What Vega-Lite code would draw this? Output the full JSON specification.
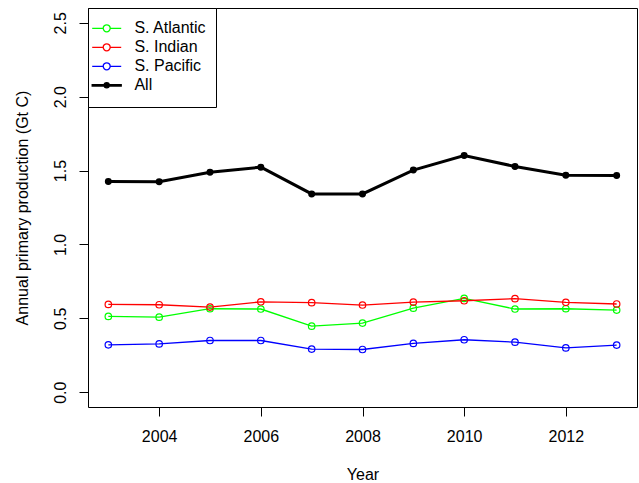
{
  "$schema": "https://vega.github.io/schema/vega-lite/v6.json",
  "width": 549,
  "height": 399,
  "autosize": {"type": "none"},
  "padding": {"left": 88, "top": 8, "right": 2, "bottom": 76},
  "background": "white",
  "config": {
    "font": "Liberation Sans",
    "view": {"stroke": "black", "strokeWidth": 1},
    "axis": {
      "domain": false,
      "grid": false,
      "ticks": true,
      "tickColor": "black",
      "tickSize": 9,
      "tickWidth": 1,
      "labelFont": "Liberation Sans",
      "labelFontSize": 16,
      "labelColor": "black",
      "labelFlush": false,
      "labelOverlap": false,
      "titleFont": "Liberation Sans",
      "titleFontSize": 16,
      "titleFontWeight": "normal",
      "titleColor": "black"
    }
  },
  "data": {
    "values": [
      {"year": 2003, "series": "S. Atlantic", "value": 0.513},
      {"year": 2004, "series": "S. Atlantic", "value": 0.508},
      {"year": 2005, "series": "S. Atlantic", "value": 0.565},
      {"year": 2006, "series": "S. Atlantic", "value": 0.563},
      {"year": 2007, "series": "S. Atlantic", "value": 0.447},
      {"year": 2008, "series": "S. Atlantic", "value": 0.468},
      {"year": 2009, "series": "S. Atlantic", "value": 0.569},
      {"year": 2010, "series": "S. Atlantic", "value": 0.635},
      {"year": 2011, "series": "S. Atlantic", "value": 0.563},
      {"year": 2012, "series": "S. Atlantic", "value": 0.565},
      {"year": 2013, "series": "S. Atlantic", "value": 0.556},
      {"year": 2003, "series": "S. Indian", "value": 0.594},
      {"year": 2004, "series": "S. Indian", "value": 0.592},
      {"year": 2005, "series": "S. Indian", "value": 0.576},
      {"year": 2006, "series": "S. Indian", "value": 0.612},
      {"year": 2007, "series": "S. Indian", "value": 0.606},
      {"year": 2008, "series": "S. Indian", "value": 0.590},
      {"year": 2009, "series": "S. Indian", "value": 0.610},
      {"year": 2010, "series": "S. Indian", "value": 0.619},
      {"year": 2011, "series": "S. Indian", "value": 0.633},
      {"year": 2012, "series": "S. Indian", "value": 0.608},
      {"year": 2013, "series": "S. Indian", "value": 0.597},
      {"year": 2003, "series": "S. Pacific", "value": 0.321},
      {"year": 2004, "series": "S. Pacific", "value": 0.327},
      {"year": 2005, "series": "S. Pacific", "value": 0.350},
      {"year": 2006, "series": "S. Pacific", "value": 0.350},
      {"year": 2007, "series": "S. Pacific", "value": 0.292},
      {"year": 2008, "series": "S. Pacific", "value": 0.289},
      {"year": 2009, "series": "S. Pacific", "value": 0.330},
      {"year": 2010, "series": "S. Pacific", "value": 0.355},
      {"year": 2011, "series": "S. Pacific", "value": 0.339},
      {"year": 2012, "series": "S. Pacific", "value": 0.300},
      {"year": 2013, "series": "S. Pacific", "value": 0.319},
      {"year": 2003, "series": "All", "value": 1.426},
      {"year": 2004, "series": "All", "value": 1.424},
      {"year": 2005, "series": "All", "value": 1.489},
      {"year": 2006, "series": "All", "value": 1.523},
      {"year": 2007, "series": "All", "value": 1.342},
      {"year": 2008, "series": "All", "value": 1.342},
      {"year": 2009, "series": "All", "value": 1.503},
      {"year": 2010, "series": "All", "value": 1.602},
      {"year": 2011, "series": "All", "value": 1.528},
      {"year": 2012, "series": "All", "value": 1.469},
      {"year": 2013, "series": "All", "value": 1.466}
    ]
  },
  "encoding": {
    "x": {
      "field": "year",
      "type": "quantitative",
      "scale": {"domain": [2002.6, 2013.4], "nice": false, "zero": false},
      "axis": {
        "title": "Year",
        "values": [2004, 2006, 2008, 2010, 2012],
        "format": "d",
        "labelBaseline": "alphabetic",
        "labelPadding": 25,
        "titleBaseline": "alphabetic",
        "titleY": 72
      }
    },
    "y": {
      "field": "value",
      "type": "quantitative",
      "scale": {"domain": [-0.1, 2.6], "nice": false, "zero": false},
      "axis": {
        "title": "Annual primary production (Gt C)",
        "values": [0, 0.5, 1, 1.5, 2, 2.5],
        "format": ".1f",
        "labelAngle": 270,
        "labelAlign": "center",
        "labelBaseline": "alphabetic",
        "labelPadding": 14,
        "titleAngle": 270,
        "titleAlign": "center",
        "titleBaseline": "alphabetic",
        "titleX": -61
      }
    },
    "color": {
      "field": "series",
      "type": "nominal",
      "scale": {
        "domain": ["S. Atlantic", "S. Indian", "S. Pacific", "All"],
        "range": ["#00ff00", "#ff0000", "#0000ff", "#000000"]
      },
      "legend": {
        "orient": "none",
        "legendX": 0,
        "legendY": 0,
        "title": null,
        "padding": 9.3,
        "strokeColor": "black",
        "fillColor": "white",
        "cornerRadius": 0,
        "symbolSize": 420.25,
        "symbolStrokeWidth": 1.3,
        "symbolOffset": -1.6,
        "labelFont": "Liberation Sans",
        "labelFontSize": 16,
        "labelColor": "black",
        "labelBaseline": "middle",
        "labelOffset": 16.7,
        "rowPadding": 0,
        "encode": {
          "symbols": {
            "update": {
              "size": {"signal": "420.25"},
              "shape": {"signal": "datum.value === 'All' ? 'M0,0.91M-1.415,-0.073H1.415V0.073H-1.415ZM0.249,0A0.249,0.249,0,1,1,-0.249,0A0.249,0.249,0,1,1,0.249,0Z' : 'M-1.415,0H-0.341M0.341,0H1.415M0.341,0A0.341,0.341,0,1,1,-0.341,0A0.341,0.341,0,1,1,0.341,0'"},
              "fill": {"signal": "datum.value === 'All' ? 'black' : 'transparent'"},
              "stroke": {"signal": "scale('color', datum.value)"},
              "strokeWidth": {"signal": "1.3"},
              "opacity": {"value": 1}
            }
          }
        }
      }
    }
  },
  "layer": [
    {
      "mark": {"type": "line"},
      "encoding": {
        "strokeWidth": {
          "condition": {"test": "datum.series === 'All'", "value": 3},
          "value": 1.3
        }
      }
    },
    {
      "mark": {"type": "point", "filled": false, "opacity": 1, "shape": "circle"},
      "encoding": {
        "fill": {
          "condition": {"test": "datum.series === 'All'", "value": "black"},
          "value": "transparent"
        },
        "size": {
          "condition": {"test": "datum.series === 'All'", "value": 30},
          "value": 42
        },
        "strokeWidth": {
          "condition": {"test": "datum.series === 'All'", "value": 1.5},
          "value": 1.2
        }
      }
    }
  ]
}
